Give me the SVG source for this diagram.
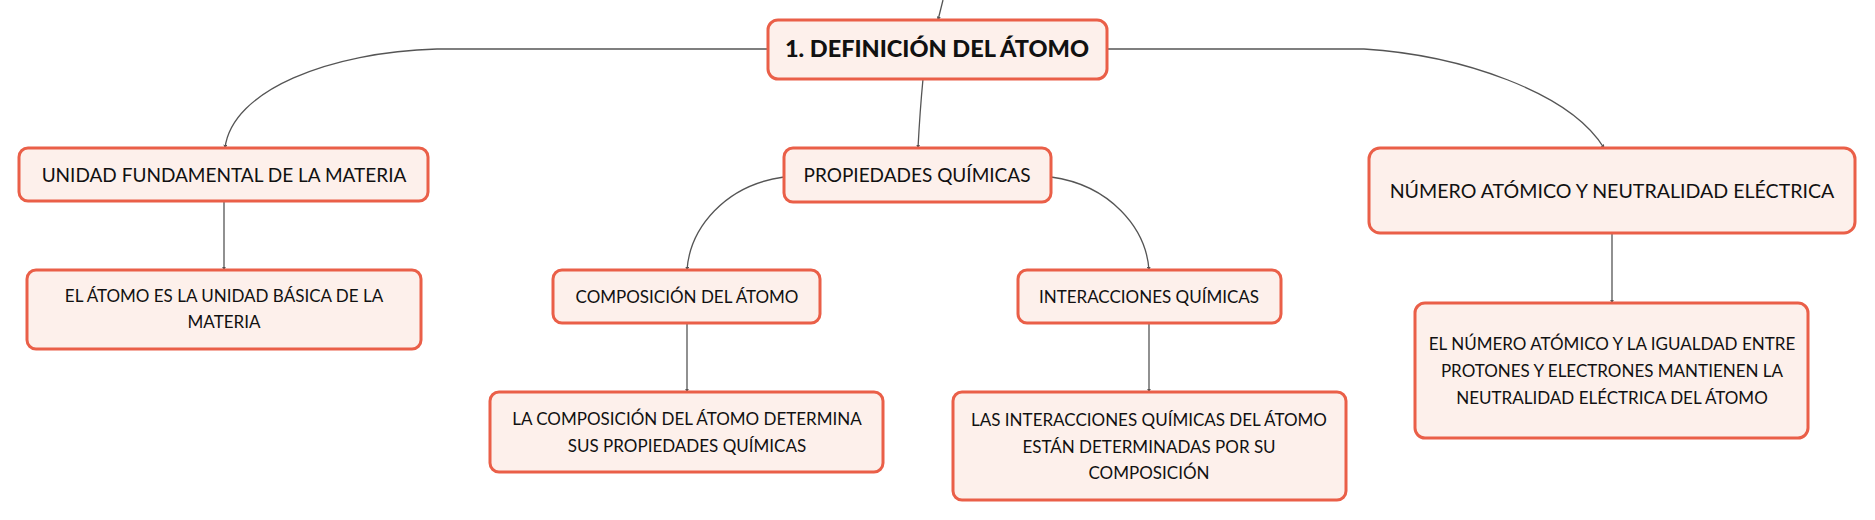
<svg xmlns="http://www.w3.org/2000/svg" width="1875" height="520" viewBox="0 0 1875 520">
<defs>
<style>
.box{fill:#fdf0eb;stroke:#ea5f48;stroke-width:3}
.t{font-family:Lato,"Noto Sans",sans-serif;fill:#111;text-anchor:middle}
.root{font-size:23.5px;font-weight:900}
.l1{font-size:19px}
.l2{font-size:17px}
.big{font-size:19.6px}
.c{fill:none;stroke:#555;stroke-width:1.3}
</style>
<marker id="ah" viewBox="0 0 6 6" refX="5" refY="3" markerWidth="4" markerHeight="4" orient="auto" markerUnits="userSpaceOnUse">
<path d="M0,0 L6,3 L0,6 Z" fill="#555"/>
</marker>
</defs>
<rect width="1875" height="520" fill="#fff"/>
<g id="connectors">
<path class="c" d="M943,0 L938,20" marker-end="url(#ah)"/>
<path class="c" d="M768,49 L437,49 C330,52 232,90 225,148" marker-end="url(#ah)"/>
<path class="c" d="M1107,49 L1364,49 C1460,55 1570,92 1604,148" marker-end="url(#ah)"/>
<path class="c" d="M923,79 Q920,110 918,148" marker-end="url(#ah)"/>
<path class="c" d="M224,201 L224,270" marker-end="url(#ah)"/>
<path class="c" d="M784,177 C725,185 690,228 687,270" marker-end="url(#ah)"/>
<path class="c" d="M1051,177 C1110,185 1146,228 1149,270" marker-end="url(#ah)"/>
<path class="c" d="M687,323 L687,392" marker-end="url(#ah)"/>
<path class="c" d="M1149,323 L1149,392" marker-end="url(#ah)"/>
<path class="c" d="M1612,233 L1612,303" marker-end="url(#ah)"/>
</g>
<g id="root">
<rect class="box" x="768" y="20" width="339" height="59" rx="10"/>
<text class="t root" x="937" y="57">1. DEFINICIÓN DEL ÁTOMO</text>
</g>
<g id="unidad">
<rect class="box" x="19" y="148" width="409" height="53" rx="9"/>
<text class="t l1" x="224" y="182">UNIDAD FUNDAMENTAL DE LA MATERIA</text>
</g>
<g id="unidad-det">
<rect class="box" x="27" y="270" width="394" height="79" rx="9"/>
<text class="t l2" x="224" y="302">EL ÁTOMO ES LA UNIDAD BÁSICA DE LA</text>
<text class="t l2" x="224" y="328">MATERIA</text>
</g>
<g id="propiedades">
<rect class="box" x="784" y="148" width="267" height="54" rx="9"/>
<text class="t l1" x="917" y="182">PROPIEDADES QUÍMICAS</text>
</g>
<g id="composicion">
<rect class="box" x="553" y="270" width="267" height="53" rx="9"/>
<text class="t l2" x="687" y="303">COMPOSICIÓN DEL ÁTOMO</text>
</g>
<g id="composicion-det">
<rect class="box" x="490" y="392" width="393" height="80" rx="9"/>
<text class="t l2" x="687" y="425">LA COMPOSICIÓN DEL ÁTOMO DETERMINA</text>
<text class="t l2" x="687" y="452">SUS PROPIEDADES QUÍMICAS</text>
</g>
<g id="interacciones">
<rect class="box" x="1018" y="270" width="263" height="53" rx="9"/>
<text class="t l2" x="1149" y="303">INTERACCIONES QUÍMICAS</text>
</g>
<g id="interacciones-det">
<rect class="box" x="953" y="392" width="393" height="108" rx="9"/>
<text class="t l2" x="1149" y="426">LAS INTERACCIONES QUÍMICAS DEL ÁTOMO</text>
<text class="t l2" x="1149" y="453">ESTÁN DETERMINADAS POR SU</text>
<text class="t l2" x="1149" y="479">COMPOSICIÓN</text>
</g>
<g id="numero">
<rect class="box" x="1369" y="148" width="486" height="85" rx="11"/>
<text class="t big" x="1612" y="198">NÚMERO ATÓMICO Y NEUTRALIDAD ELÉCTRICA</text>
</g>
<g id="numero-det">
<rect class="box" x="1415" y="303" width="393" height="135" rx="10"/>
<text class="t l2" x="1612" y="350">EL NÚMERO ATÓMICO Y LA IGUALDAD ENTRE</text>
<text class="t l2" x="1612" y="377">PROTONES Y ELECTRONES MANTIENEN LA</text>
<text class="t l2" x="1612" y="404">NEUTRALIDAD ELÉCTRICA DEL ÁTOMO</text>
</g>
</svg>
